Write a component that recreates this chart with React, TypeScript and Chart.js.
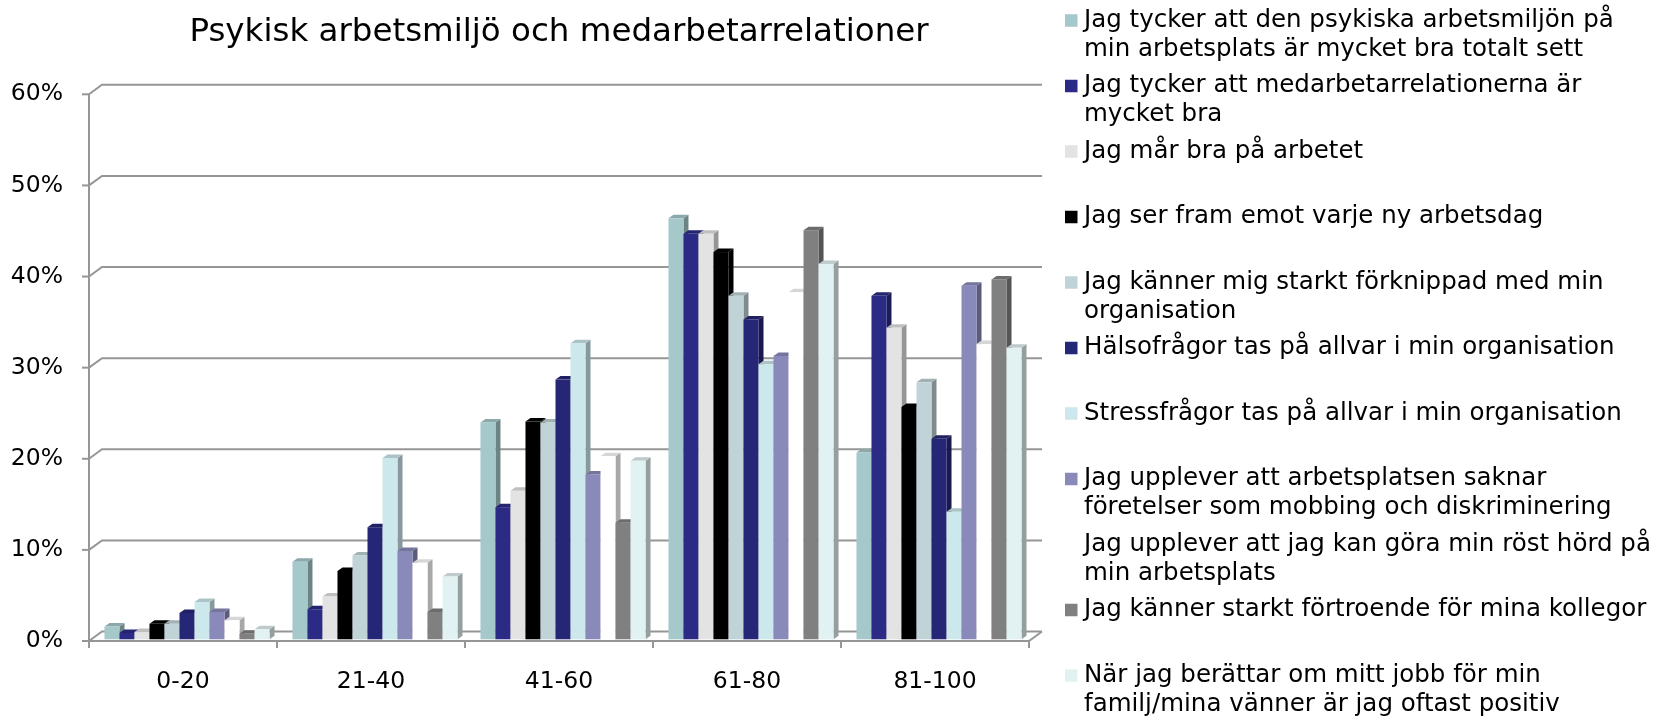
import React, { useEffect, useRef } from "react";
import { Chart, registerables } from "chart.js";

Chart.register(...registerables);

const chartTitle = "Psykisk arbetsmiljö och medarbetarrelationer";
const categories = ["0-20", "21-40", "41-60", "61-80", "81-100"];

const seriesNames = [
  "Jag tycker att den psykiska arbetsmiljön på\nmin arbetsplats är mycket bra totalt sett",
  "Jag tycker att medarbetarrelationerna är\nmycket bra",
  "Jag mår bra på arbetet",
  "Jag ser fram emot varje ny arbetsdag",
  "Jag känner mig starkt förknippad med min\norganisation",
  "Hälsofrågor tas på allvar i min organisation",
  "Stressfrågor tas på allvar i min organisation",
  "Jag upplever att arbetsplatsen saknar\nföretelser som mobbing och diskriminering",
  "Jag upplever att jag kan göra min röst hörd på\nmin arbetsplats",
  "Jag känner starkt förtroende för mina kollegor",
  "När jag berättar om mitt jobb för min\nfamilj/mina vänner är jag oftast positiv",
];

const psykiskMiljo = [1.4, 8.5, 23.8, 46.2, 20.5];
const medarbetare = [0.7, 3.3, 14.5, 44.5, 37.7];
const marBra = [0.8, 4.7, 16.3, 44.5, 34.2];
const serFram = [1.7, 7.5, 23.9, 42.5, 25.5];
const forknippad = [1.7, 9.2, 23.8, 37.7, 28.2];
const halsofragor = [2.9, 12.3, 28.5, 35.1, 22.0];
const stressfragor = [4.1, 19.9, 32.5, 30.2, 14.0];
const saknarMobbing = [3.0, 9.7, 18.1, 31.1, 38.8];
const rostHord = [2.1, 8.4, 20.1, 38.1, 32.4];
const fortroende = [0.6, 3.0, 12.8, 44.9, 39.5];
const positiv = [1.1, 6.9, 19.6, 41.2, 32.0];

const seriesValues = [
  psykiskMiljo, medarbetare, marBra, serFram, forknippad, halsofragor,
  stressfragor, saknarMobbing, rostHord, fortroende, positiv,
];

const seriesColors = [
  "#A5C8CA", "#2B2B85", "#E3E3E3", "#000000", "#C0D3D6", "#262676",
  "#CDE8EC", "#8A8ABA", "#FFFFFF", "#808080", "#E2F1F2",
];

const yMin = 0;
const yMax = 60;
const yStep = 10;

const FONT = '"DejaVu Sans", "Liberation Sans", sans-serif';

function shade(hex: string, f: number): string {
  const h = hex.replace("#", "");
  const r = Math.round(parseInt(h.slice(0, 2), 16) * f);
  const g = Math.round(parseInt(h.slice(2, 4), 16) * f);
  const b = Math.round(parseInt(h.slice(4, 6), 16) * f);
  return `rgb(${r},${g},${b})`;
}

const frame3d = {
  id: "frame3d",
  beforeDatasetsDraw(chart: any) {
    const ctx = chart.ctx;
    const ca = chart.chartArea;
    const ys = chart.scales.y;
    const DX = 13;
    const DY = -9.5;
    ctx.save();
    ctx.strokeStyle = "#969696";
    ctx.lineWidth = 2;
    ctx.lineCap = "butt";
    const y0 = ys.getPixelForValue(yMin);
    // back wall grid lines with left diagonals, plus y ticks
    ys.ticks.forEach((t: any) => {
      const py = ys.getPixelForValue(t.value);
      ctx.beginPath();
      ctx.moveTo(ca.left, py);
      ctx.lineTo(ca.left + DX, py + DY);
      ctx.lineTo(ca.right + DX, py + DY);
      ctx.stroke();
      ctx.beginPath();
      ctx.moveTo(ca.left - 7, py);
      ctx.lineTo(ca.left, py);
      ctx.stroke();
    });
    // floor front edge and right diagonal
    ctx.beginPath();
    ctx.moveTo(ca.left, y0);
    ctx.lineTo(ca.right, y0);
    ctx.lineTo(ca.right + DX, y0 + DY);
    ctx.stroke();
    // vertical axis
    ctx.beginPath();
    ctx.moveTo(ca.left, ys.getPixelForValue(yMax));
    ctx.lineTo(ca.left, y0 + 7);
    ctx.stroke();
    // category tick marks
    const n = chart.data.labels.length;
    for (let k = 0; k <= n; k++) {
      const px = ca.left + (k * (ca.right - ca.left)) / n;
      ctx.beginPath();
      ctx.moveTo(px, y0);
      ctx.lineTo(px, y0 + 7);
      ctx.stroke();
    }
    ctx.restore();

    // 3D bars
    const SX = 4;
    const SY = -1.7;
    const BX = 5;
    const BY = -3.5;
    ctx.save();
    const dsCount = chart.data.datasets.length;
    for (let j = 0; j < n; j++) {
      for (let i = 0; i < dsCount; i++) {
        const meta = chart.getDatasetMeta(i);
        const el = meta.data[j];
        if (!el) continue;
        const face = chart.data.datasets[i].backgroundColor as string;
        const L = el.x - el.width / 2 + SX;
        const R = el.x + el.width / 2 + SX;
        const T = el.y + SY;
        const B = el.base + SY;
        // side
        ctx.fillStyle = shade(face, 0.66);
        ctx.beginPath();
        ctx.moveTo(R, T);
        ctx.lineTo(R + BX, T + BY);
        ctx.lineTo(R + BX, B + BY);
        ctx.lineTo(R, B);
        ctx.closePath();
        ctx.fill();
        // top
        ctx.fillStyle = shade(face, 0.84);
        ctx.beginPath();
        ctx.moveTo(L, T);
        ctx.lineTo(R, T);
        ctx.lineTo(R + BX, T + BY);
        ctx.lineTo(L + BX, T + BY);
        ctx.closePath();
        ctx.fill();
        // front
        ctx.fillStyle = face;
        ctx.fillRect(L, T, R - L, B - T);
      }
    }
    ctx.restore();
    return false;
  },
};

const sideLegend = {
  id: "sideLegend",
  afterDraw(chart: any) {
    const ctx = chart.ctx;
    const LX = 1065;
    const TX = 1084;
    const Y0 = 20.5;
    const STEP = 65.5;
    const LH = 28.8;
    const SQ = 12.5;
    ctx.save();
    ctx.font = `24.5px ${FONT}`;
    ctx.textBaseline = "middle";
    ctx.textAlign = "left";
    chart.data.datasets.forEach((ds: any, i: number) => {
      const yy = Y0 + i * STEP;
      ctx.fillStyle = ds.backgroundColor;
      ctx.fillRect(LX, yy - SQ / 2, SQ, SQ);
      ctx.fillStyle = "#000000";
      String(ds.label).split("\n").forEach((ln: string, k: number) => {
        ctx.fillText(ln, TX, yy + k * LH);
      });
    });
    ctx.restore();
  },
};

export default function App() {
  const ref = useRef<HTMLCanvasElement | null>(null);

  useEffect(() => {
    if (!ref.current) return;
    const chart = new Chart(ref.current, {
      type: "bar",
      data: {
        labels: categories,
        datasets: seriesValues.map((vals, i) => ({
          label: seriesNames[i],
          data: vals,
          backgroundColor: seriesColors[i],
          borderWidth: 0,
          categoryPercentage: 0.878,
          barPercentage: 1.0,
        })),
      },
      options: {
        responsive: false,
        animation: false,
        devicePixelRatio: 1,
        layout: { padding: { top: 13, left: 0, right: 642, bottom: 0 } },
        plugins: {
          legend: { display: false },
          tooltip: { enabled: false },
          title: {
            display: true,
            text: chartTitle,
            fullSize: false,
            color: "#000000",
            font: { family: FONT, size: 32.5, weight: "normal", lineHeight: 1.2 },
            padding: { top: 0, bottom: 42.3 },
          },
        },
        scales: {
          x: {
            grid: { display: false, drawTicks: false },
            border: { display: false },
            ticks: {
              color: "#000000",
              font: { family: FONT, size: 23.5 },
              padding: 27,
              maxRotation: 0,
            },
            afterFit: (s: any) => {
              s.height = 76;
            },
          },
          y: {
            min: yMin,
            max: yMax,
            grid: { display: false, drawTicks: false },
            border: { display: false },
            ticks: {
              stepSize: yStep,
              color: "#000000",
              font: { family: FONT, size: 23.5 },
              padding: 26,
              callback: (v: any) => `${v}%`,
            },
            afterFit: (s: any) => {
              s.width = 89;
            },
          },
        },
      },
      plugins: [frame3d, sideLegend],
    });
    return () => chart.destroy();
  }, []);

  return (
    <div
      style={{
        position: "fixed",
        left: 0,
        top: 0,
        width: 1671,
        height: 717,
        background: "#ffffff",
      }}
    >
      <canvas ref={ref} width={1671} height={717} style={{ display: "block" }} />
    </div>
  );
}
